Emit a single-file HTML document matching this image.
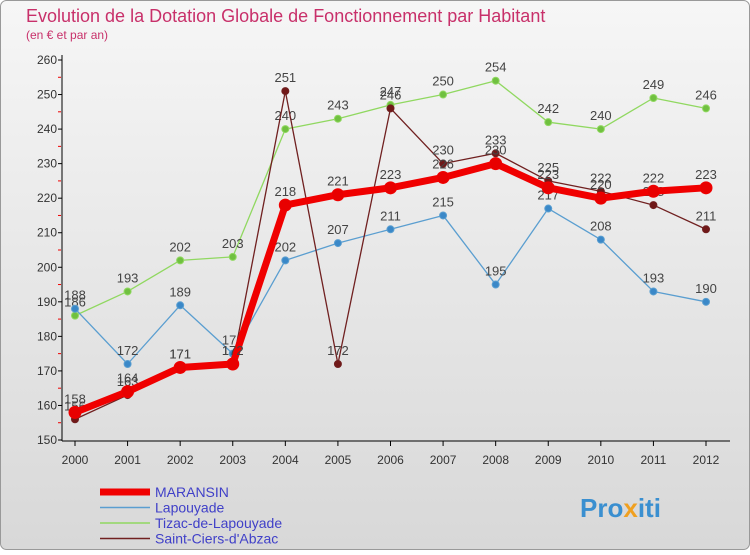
<!DOCTYPE html>
<html><head><meta charset="utf-8"><style>
body{margin:0;}
#wrap{width:750px;height:550px;position:relative;font-family:"Liberation Sans",sans-serif;}
svg text{font-family:"Liberation Sans",sans-serif;}
</style></head><body>
<div id="wrap">
<svg id="chart" width="750" height="550" xmlns="http://www.w3.org/2000/svg">
<defs><linearGradient id="bg" x1="0" y1="0" x2="0" y2="1"><stop offset="0" stop-color="#f6f6f6"/><stop offset="1" stop-color="#d8d8d8"/></linearGradient></defs>
<rect x="0.5" y="0.5" width="749" height="549" rx="6" fill="url(#bg)" stroke="#999"/>
<text x="26" y="22" font-size="18" fill="#c8306a">Evolution de la Dotation Globale de Fonctionnement par Habitant</text>
<text x="26" y="39" font-size="12" fill="#c8306a">(en € et par an)</text>
<g id="axes"></g><g id="series"></g><g id="legend"></g>
<text x="580" y="517" font-size="26" font-weight="bold" fill="#3a8fd0">Pro<tspan fill="#f0a020">x</tspan><tspan fill="#3a8fd0">iti</tspan></text>
</svg>
</div>
<script>
const years=["2000","2001","2002","2003","2004","2005","2006","2007","2008","2009","2010","2011","2012"];
const maransin=[158,164,171,172,218,221,223,226,230,223,220,222,223];
const lapouyade=[188,172,189,175,202,207,211,215,195,217,208,193,190];
const tizac=[186,193,202,203,240,243,247,250,254,242,240,249,246];
const saintCiers=[156,163,171,172,251,172,246,230,233,225,222,218,211];
const yTicks=[150,160,170,180,190,200,210,220,230,240,250,260];
const seriesNames=["MARANSIN","Lapouyade","Tizac-de-Lapouyade","Saint-Ciers-d'Abzac"];
const NS="http://www.w3.org/2000/svg";
const x=i=>75+i*(706-75)/12;
const y=v=>440-(v-150)*(380/110);
function mk(tag,attrs,parent,txt){const e=document.createElementNS(NS,tag);for(const k in attrs)e.setAttribute(k,attrs[k]);if(txt!==undefined)e.textContent=txt;parent.appendChild(e);return e;}
const axes=document.getElementById('axes');
let a=mk('line',{x1:62,y1:55,x2:62,y2:441,stroke:'#000'},axes);


a=mk('line',{x1:62,y1:441,x2:730,y2:441,stroke:'#000'},axes);


yTicks.forEach(v=>{
  const t=mk('text',{x:57,y:y(v)+4,'font-size':12,'text-anchor':'end',fill:'#333'},axes,v);
  
  
  mk('line',{x1:58,y1:y(v),x2:62,y2:y(v),stroke:'#000'},axes);
  if(v<260){mk('line',{x1:58,y1:y(v+5),x2:61,y2:y(v+5),stroke:'#e00'},axes);}
});
years.forEach((yr,i)=>{
  mk('line',{x1:x(i),y1:441,x2:x(i),y2:446,stroke:'#000'},axes);
  const t=mk('text',{x:x(i),y:464,'font-size':12,'text-anchor':'middle',fill:'#333'},axes,yr);
  
  
});
const S=document.getElementById('series');
function draw(vals,color,width,r,dot,name){
  const g=mk('g',{},S);
  
  
  const l=mk('polyline',{points:vals.map((v,i)=>x(i)+','+y(v)).join(' '),fill:'none',stroke:color,'stroke-width':width,'stroke-linejoin':'round'},g);
  
  
  vals.forEach((v,i)=>{
    const c=mk('circle',{cx:x(i),cy:y(v),r:r,fill:dot,stroke:color,'stroke-width':1},g);
    
    
    const t=mk('text',{x:x(i),y:y(v)-9,'font-size':13,'text-anchor':'middle',fill:'#444'},g,v);
    
    
  });
}
draw(tizac,'#90d860',1.3,3.5,'#70c040','tizac');
draw(lapouyade,'#5a9ed0',1.3,3.5,'#3a88c8','lapouyade');
draw(saintCiers,'#702020',1.3,3.5,'#701818','saint-ciers');
draw(maransin,'#f00000',7,6,'#e80000','maransin');
const L=document.getElementById('legend');
const lc=['#f00000','#5a9ed0','#90d860','#702020'],lw=[7,1.5,1.5,1.5];
seriesNames.forEach((n,i)=>{
  const yy=492+i*15.5;
  const g=mk('g',{},L);
  
  
  mk('line',{x1:100,y1:yy,x2:150,y2:yy,stroke:lc[i],'stroke-width':lw[i]},g);
  mk('text',{x:155,y:yy+5,'font-size':14,fill:'#4040c8'},g,n);
});
</script>
</body></html>
